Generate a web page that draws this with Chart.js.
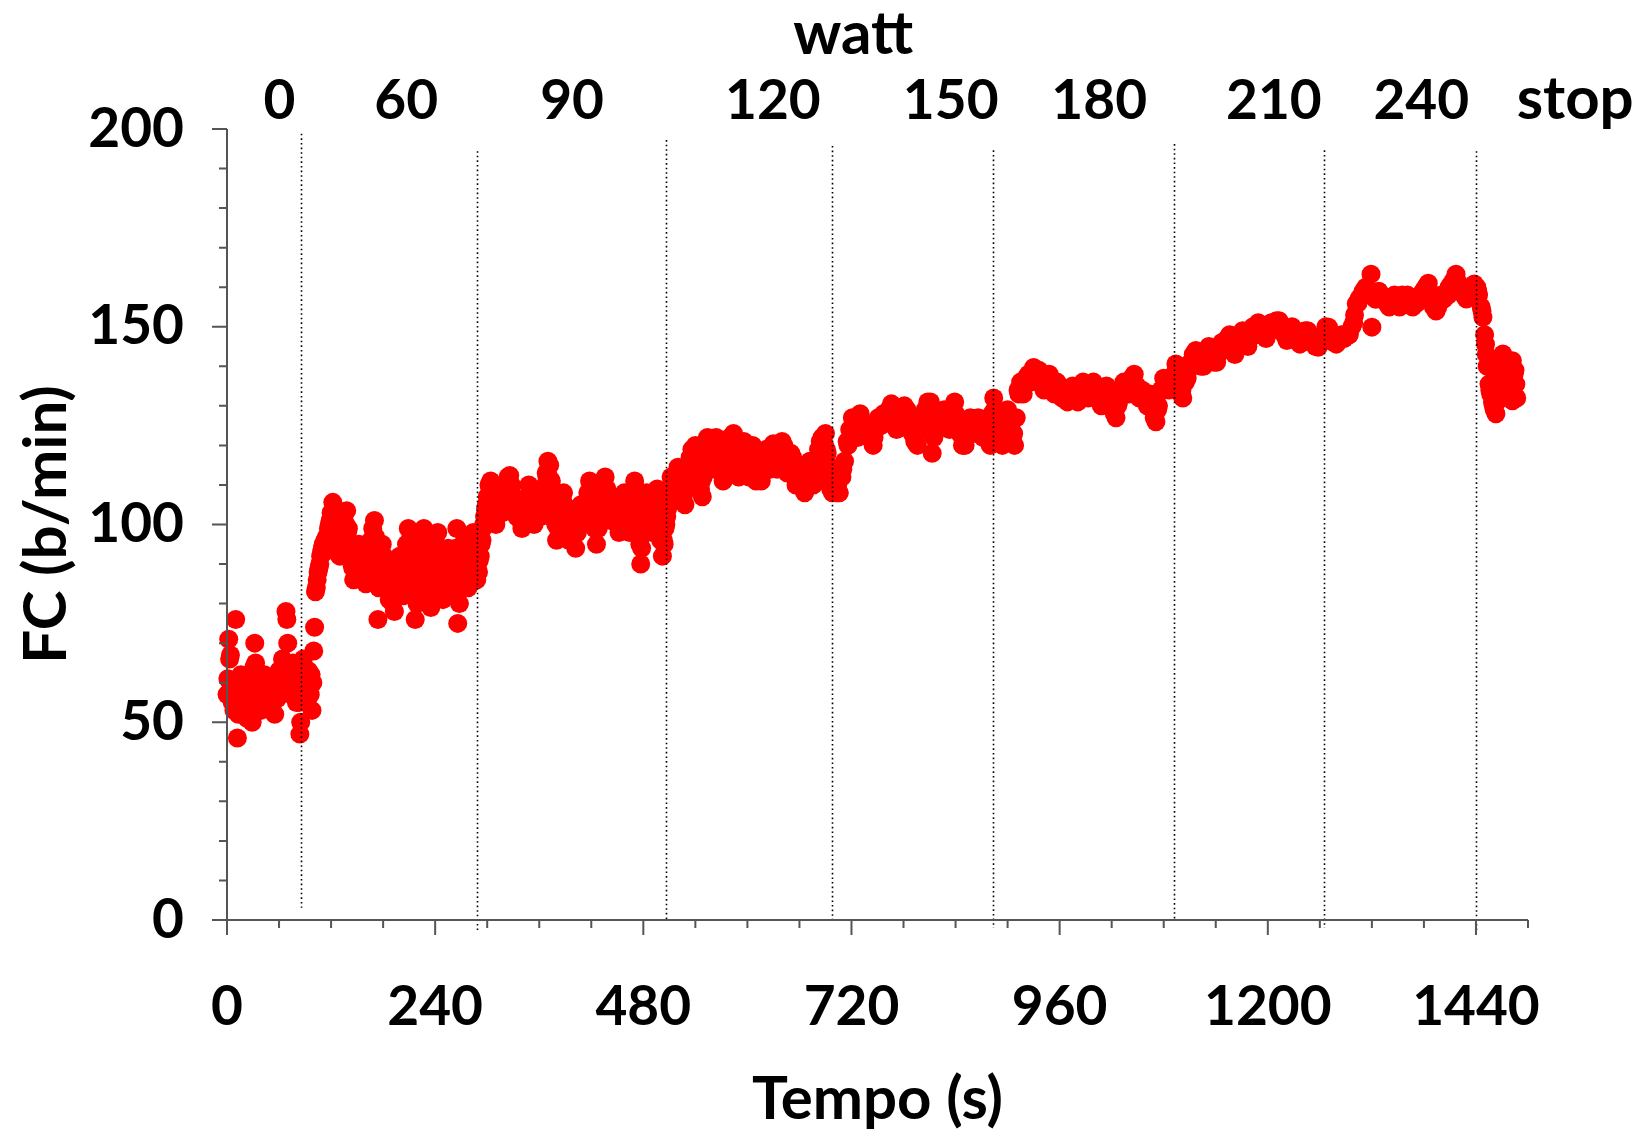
<!DOCTYPE html>
<html>
<head>
<meta charset="utf-8">
<title>FC vs tempo</title>
<script src="https://cdn.jsdelivr.net/npm/chart.js@4/dist/chart.umd.min.js"></script>
<style>
  html, body { margin: 0; padding: 0; background: #fff; }
  canvas { display: block; }
</style>
</head>
<body>
<canvas id="fcChart" width="1643" height="1136"></canvas>
<script>
// Heart rate (b/min) during the incremental test, time in seconds.
// First block: even readings, second block: the readings in between.
const tempo = [
  0, 1, 2, 3, 4, 5, 6, 8, 9, 10, 11, 12, 13, 15, 16,
  18, 20, 21, 23, 24, 26, 28, 29, 31, 32, 33, 35, 37, 39, 41,
  43, 45, 47, 49, 51, 53, 55, 56, 58, 60, 62, 64, 66, 68, 69,
  70, 72, 74, 76, 78, 80, 82, 84, 85, 86, 88, 90, 92, 94, 96,
  98, 100, 101,
  102, 104, 106, 108, 110, 112, 114, 116, 118, 120, 122, 124, 126, 128, 130,
  132, 134, 136, 138, 140, 142, 144, 146, 148, 150, 152, 154, 156, 158, 160,
  162, 164, 166, 168, 170, 172, 174, 175, 177, 179, 181, 183, 185, 187, 189,
  191, 193, 195, 197, 199, 201, 203, 205, 207, 209, 211, 213, 215, 217, 219,
  221, 223, 225, 227, 229, 231, 233, 235, 237, 239, 241, 243, 245, 247, 249,
  251, 253, 255, 257, 259, 261, 263, 265, 266, 268, 270, 272, 274, 276, 278,
  280, 282, 284, 286, 288,
  290, 292, 294, 296, 298, 300, 302, 304, 306, 308, 310, 312, 314, 316, 318,
  320, 322, 324, 326, 328, 330, 332, 334, 336, 338, 340, 342, 344, 346, 348,
  350, 352, 354, 356, 358, 360, 362, 364, 366, 368, 370, 372, 374, 376, 378,
  380, 382, 384, 386, 388, 390, 392, 394, 396, 398, 400, 402, 404, 406, 408,
  410, 412, 414, 416, 418, 420, 422, 424, 426, 428, 430, 432, 434, 436, 438,
  440, 442, 444, 446, 448, 450, 452, 454, 456, 458, 460, 462, 464, 466, 468,
  470, 472, 474, 476, 477, 478, 480, 482, 484, 486, 488, 490, 492, 494, 496,
  498, 500, 502, 504, 506,
  508, 510, 512, 514, 516, 518, 520, 522, 524, 526, 528, 530, 532, 534, 536,
  538, 540, 542, 544, 546, 548, 550, 552, 554, 556, 558, 560, 562, 564, 566,
  568, 570, 572, 574, 576, 578, 580, 582, 584, 586, 588, 590, 592, 594, 596,
  598, 600, 602, 604, 606, 608, 610, 612, 614, 616, 618, 620, 622, 624, 626,
  628, 630, 632, 634, 636, 638, 640, 642, 644, 646, 648, 650, 652, 654, 656,
  658, 660, 662, 664, 666, 668, 670, 672, 674, 676, 678, 680, 682, 684, 686,
  688, 690, 692, 694, 696, 698,
  700, 703, 706, 709, 712, 715, 718, 721, 724, 727, 730, 733, 736, 739, 742,
  745, 748, 751, 754, 757, 760, 763, 766, 769, 772, 775, 778, 781, 784, 787,
  790, 793, 796, 799, 802, 805, 808, 811, 813, 815, 818, 821, 824, 827, 830,
  833, 836, 839, 842, 845, 848, 851, 854, 857, 860, 863, 866, 869, 872, 875,
  878, 880, 882, 884, 886,
  888, 891, 894, 897, 900, 903, 906, 908, 910, 912, 915, 918, 921, 924, 927,
  930, 933, 936, 939, 942, 945, 948, 951, 954, 957, 960, 963, 966, 969, 972,
  975, 978, 981, 984, 987, 990, 993, 996, 999, 1002, 1005, 1008, 1011, 1014, 1017,
  1020, 1023, 1025, 1028, 1031, 1034, 1037, 1040, 1043, 1046, 1049, 1052, 1055, 1058,
  1061, 1064, 1067, 1069, 1071, 1074, 1077, 1080, 1083, 1086, 1089, 1092,
  1094, 1097, 1100, 1102, 1105, 1108, 1111, 1114, 1117, 1120, 1123, 1126, 1129, 1132, 1135,
  1138, 1141, 1144, 1147, 1150, 1153, 1156, 1159, 1162, 1165, 1168, 1171, 1174, 1177, 1180,
  1183, 1186, 1189, 1192, 1195, 1198, 1201, 1204, 1207, 1210, 1213, 1216, 1219, 1222, 1225,
  1228, 1231, 1234, 1237, 1240, 1243, 1246, 1249, 1252, 1255, 1258, 1261, 1264,
  1267, 1270, 1273, 1276, 1279, 1282, 1285, 1288, 1291, 1294, 1297, 1300, 1302, 1305, 1308,
  1310, 1313, 1316, 1319, 1320, 1322, 1325, 1328, 1331, 1334, 1337, 1340, 1343, 1346, 1349,
  1352, 1355, 1358, 1361, 1364, 1367, 1370, 1373, 1376, 1379, 1382, 1385, 1388, 1391, 1394,
  1397, 1400, 1403, 1406, 1409, 1412, 1415, 1417, 1420, 1423, 1426, 1429, 1432, 1435, 1438,
  1441, 1443,
  1446, 1448, 1450, 1451, 1453, 1455, 1457, 1459, 1461, 1463, 1465, 1467, 1469, 1471, 1473,
  1475, 1477, 1479, 1482, 1482, 1484, 1486, 1487,
  // in between
  7, 14, 17, 19, 22, 25, 27, 30, 34, 36, 38, 40, 42, 44, 46,
  48, 50, 52, 54, 57, 59, 61, 63, 65, 67, 71, 73, 75, 77, 79,
  81, 83, 87, 89, 91, 93, 95, 97, 99,
  103, 105, 107, 109, 111, 113, 115, 117, 119, 121, 123, 125, 127, 129, 131,
  133, 135, 137, 139, 141, 143, 145, 147, 149, 151, 153, 155, 157, 159, 161,
  163, 165, 167, 169, 171, 173, 176, 178, 180, 182, 184, 186, 188, 190, 192,
  194, 196, 198, 200, 202, 204, 206, 208, 210, 212, 214, 216, 218, 220, 222,
  224, 226, 228, 230, 232, 234, 236, 238, 240, 242, 244, 246, 248, 250, 252,
  254, 256, 258, 260, 262, 264, 267, 269, 271, 273, 275, 277, 279, 281, 283,
  285, 287,
  289, 291, 293, 295, 297, 299, 301, 303, 305, 307, 309, 311, 313, 315, 317,
  319, 321, 323, 325, 327, 329, 331, 333, 335, 337, 339, 341, 343, 345, 347,
  349, 351, 353, 355, 357, 359, 361, 363, 365, 367, 369, 371, 373, 375, 377,
  379, 381, 383, 385, 387, 389, 391, 393, 395, 397, 399, 401, 403, 405, 407,
  409, 411, 413, 415, 417, 419, 421, 423, 425, 427, 429, 431, 433, 435, 437,
  439, 441, 443, 445, 447, 449, 451, 453, 455, 457, 459, 461, 463, 465, 467,
  469, 471, 473, 475, 479, 481, 483, 485, 487, 489, 491, 493, 495, 497, 499,
  501, 503, 505,
  507, 509, 511, 513, 515, 517, 519, 521, 523, 525, 527, 529, 531, 533, 535,
  537, 539, 541, 543, 545, 547, 549, 551, 553, 555, 557, 559, 561, 563, 565,
  567, 569, 571, 573, 575, 577, 579, 581, 583, 585, 587, 589, 591, 593, 595,
  597, 599, 601, 603, 605, 607, 609, 611, 613, 615, 617, 619, 621, 623, 625,
  627, 629, 631, 633, 635, 637, 639, 641, 643, 645, 647, 649, 651, 653, 655,
  657, 659, 661, 663, 665, 667, 669, 671, 673, 675, 677, 679, 681, 683, 685,
  687, 689, 691, 693, 695, 697,
  704, 710, 716, 722, 728, 734, 740, 746, 752, 758, 764, 770, 776, 782, 788,
  794, 800, 806, 812, 816, 822, 828, 834, 840, 846, 852, 858, 864, 870, 876,
  881, 885,
  889, 895, 901, 907, 913, 919, 925, 931, 937, 943, 949, 955, 961, 967, 973,
  979, 985, 991, 997, 1003, 1009, 1015, 1021, 1027, 1033, 1039, 1045, 1051, 1057, 1063,
  1068, 1073, 1079, 1085, 1091,
  1096, 1101, 1107, 1113, 1119, 1125, 1131, 1137, 1143, 1149, 1155, 1161, 1167, 1173, 1179,
  1185, 1191, 1197, 1203, 1209, 1215, 1221, 1227, 1233, 1239, 1245, 1251, 1257, 1263,
  1269, 1275, 1281, 1287, 1293, 1299, 1304, 1311, 1317, 1324, 1330, 1336, 1342, 1348, 1354,
  1360, 1366, 1372, 1378, 1384, 1390, 1396, 1402, 1408, 1414, 1419, 1425, 1431, 1437, 1442,
  1447, 1452, 1456, 1460, 1464, 1468, 1472, 1476, 1480, 1483, 1485
];

const fc = [
  57, 61, 71, 66, 67, 59, 55, 53, 60, 76, 56, 46, 52, 58, 62,
  55, 60, 53, 51, 57, 62, 58, 50, 64, 70, 65, 56, 60, 53, 58,
  62, 55, 60, 57, 53, 59, 52, 61, 56, 63, 58, 66, 60, 78, 76,
  70, 62, 57, 65, 60, 55, 62, 47, 50, 58, 66, 60, 55, 63, 57,
  53, 68, 74,
  83, 86, 89, 92, 94, 93, 95, 96, 100, 103, 105.6, 101, 97, 95, 92,
  98, 100, 103, 103.5, 99, 94, 90, 86, 88, 92, 95, 94, 90, 87, 85,
  89, 93, 96, 99, 101, 96, 76, 84, 90, 95, 92, 88, 84, 81, 86,
  80, 78, 83, 88, 92, 86, 82, 90, 95, 99, 96, 88, 83, 76, 80,
  86, 92, 97, 99, 93, 87, 82, 79, 85, 90, 95, 98, 92, 87, 81,
  84, 90, 94, 88, 83, 86, 93, 99, 75, 80, 85, 92, 96, 89, 84,
  88, 94, 98, 90, 86,
  88, 92, 96, 100, 104, 107, 110, 111, 106, 102, 100, 104, 108, 106, 103,
  105, 109, 112, 112.4, 110, 107, 104, 102, 105, 101, 99, 101, 104, 107, 110,
  108, 104, 100, 103, 106, 104, 102, 105, 109, 113, 116, 115, 111, 106, 101,
  96, 99, 103, 106, 108, 104, 99, 96, 100, 103, 97, 94, 98, 102, 105,
  103, 101, 104, 108, 111, 108, 103, 99, 95, 99, 104, 108, 111, 112, 109,
  104, 101, 104, 106, 103, 100, 98, 102, 106, 108, 105, 101, 98, 103, 107,
  111, 109, 104, 95, 90, 94, 100, 104, 108, 106, 102, 98, 103, 107, 109,
  104, 96, 92, 95, 100,
  104, 108, 112, 110, 107, 111, 114.5, 113, 109, 107, 105, 110, 114, 117, 119,
  115, 120, 116, 112, 109, 107, 114, 121, 122, 118, 114, 117, 121, 122, 119,
  116, 113, 111, 115, 118, 121, 122, 118, 123, 120, 116, 112, 115, 118, 121,
  119, 116, 112, 118, 120, 115, 111, 114, 117, 111, 113, 116, 119, 117, 114,
  119, 120.4, 117, 114, 116, 119, 121, 120, 117, 113, 115, 118, 117, 113, 110,
  112, 115, 112, 109, 108, 110, 113, 116, 113, 110, 112, 116, 119, 121, 122,
  120, 123, 118, 113, 109, 108,
  110, 108, 108, 112, 116, 121, 124, 127, 125, 122, 128, 126, 123, 125, 122,
  120, 124, 127, 125, 128, 126, 129, 130.5, 127, 124, 126, 128, 130, 129, 126,
  123, 121, 120, 124, 127, 129, 131, 131, 118, 122, 126, 128, 126, 129, 126,
  124, 128, 131, 127, 123, 120, 120, 124, 127, 125, 123, 127, 125, 122, 124,
  121, 120, 128, 132, 127,
  124, 121, 120, 124, 129, 125, 121, 120, 127, 134, 136, 133, 137, 138, 136,
  139.7, 137, 139, 136, 134, 137, 138, 135, 133, 136, 134, 132, 134, 131, 133,
  135, 133, 131, 134, 136, 134, 132, 134, 136, 135, 132, 130, 133, 135, 133,
  130, 128, 127, 131, 134, 136, 135, 133, 137, 138, 135, 132, 134, 132,
  130, 133, 129, 127, 126, 130, 134, 137, 136, 134, 137, 138,
  140.6, 137, 133, 132, 136, 139, 141, 143, 144, 142, 140, 140, 143, 145, 143,
  141, 141, 144, 146, 145, 147, 148, 146, 143, 145, 148, 149, 147, 145, 149,
  150, 148, 151, 150, 148, 147, 149, 151, 150, 151.5, 151.5, 150, 148, 146.5, 148,
  150, 149, 147, 145.6, 147, 149, 149, 147, 146, 145, 144.8, 146, 148,
  150, 149.9, 148, 146, 145.6, 147, 148, 147, 148.2, 148, 150, 153, 155.8, 157, 158,
  159, 160, 159, 163.3, 149.9, 158, 157, 159, 157, 157.4, 156, 155, 157, 158, 156,
  155, 158, 157, 158, 156, 155, 155.8, 157, 158, 159, 160, 161, 158, 155, 154,
  156, 158, 157, 158, 160, 161, 162, 163.3, 161, 159, 158, 157, 159, 160, 160.8,
  160, 158,
  155, 152.4, 148, 145.6, 140, 135.5, 133, 131, 129, 128, 133, 138, 141, 143.1, 140,
  136, 133, 137, 141.4, 131.3, 138, 135.5, 132,
  // in between
  58, 57, 60, 56, 58, 60, 55, 59, 62, 58, 56, 60, 57, 59, 56,
  61, 58, 56, 58, 60, 57, 61, 59, 63, 61, 64, 60, 62, 58, 60,
  58, 55, 62, 61, 58, 60, 59, 62, 60,
  84, 88, 90, 93, 95, 96, 97, 99, 101, 102, 103, 100, 98, 97, 96,
  99, 101, 100, 98, 95, 92, 89, 90, 91, 93, 91, 92, 89, 88, 91,
  90, 92, 94, 95, 97, 91, 88, 91, 90, 88, 87, 86, 84, 83, 82,
  86, 87, 89, 90, 88, 86, 92, 93, 92, 90, 87, 85, 83, 85, 89,
  93, 95, 94, 90, 86, 84, 86, 88, 92, 94, 93, 89, 85, 86, 88,
  91, 90, 87, 88, 90, 94, 86, 84, 88, 93, 92, 88, 87, 91, 95,
  93, 90,
  90, 91, 95, 99, 102, 105, 107, 108, 107, 104, 103, 104, 106, 106, 105,
  105, 107, 109, 110, 109, 107, 105, 104, 104, 103, 102, 103, 104, 106, 107,
  107, 105, 103, 103, 105, 105, 104, 104, 107, 110, 112, 112, 111, 107, 104,
  100, 100, 102, 104, 106, 105, 102, 100, 100, 102, 101, 99, 98, 101, 103,
  104, 103, 103, 106, 108, 108, 106, 102, 99, 100, 102, 105, 108, 109, 108,
  106, 103, 103, 105, 104, 102, 101, 101, 104, 106, 106, 104, 101, 101, 104,
  107, 108, 106, 101, 99, 102, 105, 106, 104, 101, 101, 104, 106, 106, 101,
  98, 96, 99,
  102, 106, 109, 110, 109, 110, 112, 112, 110, 109, 108, 109, 112, 115, 116,
  116, 117, 117, 114, 112, 111, 112, 117, 119, 119, 116, 116, 118, 119, 119,
  117, 115, 113, 114, 116, 118, 119, 119, 119, 119, 117, 115, 114, 116, 118,
  118, 117, 115, 115, 117, 117, 114, 113, 115, 115, 113, 115, 117, 117, 116,
  116, 118, 118, 116, 115, 117, 119, 119, 118, 115, 114, 116, 116, 114, 112,
  112, 113, 113, 111, 110, 110, 112, 114, 114, 112, 111, 114, 117, 119, 119,
  119, 120, 119, 115, 111, 110,
  110, 114, 120, 124, 124, 124, 123, 122, 125, 126, 127, 126, 126, 128, 125,
  122, 124, 127, 125, 124, 126, 127, 126, 128, 124, 122, 125, 124, 124, 122,
  124, 129,
  123, 122, 126, 123, 133, 135, 137, 137, 137, 135, 136, 134, 133, 132, 133,
  132, 134, 133, 134, 133, 132, 133, 130, 130, 134, 134, 136, 134, 133, 131,
  129, 129, 134, 135, 136,
  138, 134, 137, 141, 142, 141, 143, 142, 143, 145, 146, 145, 146, 147, 147,
  149, 149, 148, 149, 150, 150, 148, 148, 148, 146, 148, 147, 146, 147,
  149, 147, 147, 147, 148, 151, 156, 158, 158, 157, 158, 157, 156, 157, 156,
  157, 156, 156, 158, 159, 157, 155, 157, 158, 160, 161, 159, 158, 159, 159,
  154, 143, 134, 130, 131, 139, 142, 135, 134, 136, 139
];

// Workload stages (watt): end of each stage in seconds and the label of each stage
const stageEnds = [85, 288, 506, 698, 883, 1092, 1265, 1440];
const stageLineTop = [198.8, 194.4, 197.2, 195.7, 194.6, 196.2, 194.6, 194.4];
const stageLineBottom = [3.1, -2.5, 0, 0, -2, 0, -2, -2.5];
const wattLabels = ['0', '60', '90', '120', '150', '180', '210', '240', 'stop'];
const wattLabelTime = [60.5, 206.6, 397.8, 629.4, 834.4, 1005.6, 1207, 1377, 1554.4];
const wattTitleTime = 722;

const FONT = 'Lato, "Noto Sans", sans-serif';
const NUM_SIZE = 55;
const WORD_SIZE = 60;

// axes, minor ticks, stage separators and the watt row on top
const framePlugin = {
  id: 'frame',
  afterDatasetsDraw(chart) {
    const { ctx, scales: { x, y } } = chart;
    const x0 = x.getPixelForValue(0);
    const y0 = y.getPixelForValue(0);
    ctx.save();

    ctx.strokeStyle = '#000';
    ctx.lineWidth = 1.6;
    ctx.setLineDash([1.6, 3]);
    stageEnds.forEach((t, i) => {
      const px = Math.round(x.getPixelForValue(t)) + 0.5;
      ctx.beginPath();
      ctx.moveTo(px, y.getPixelForValue(stageLineTop[i]));
      ctx.lineTo(px, y.getPixelForValue(stageLineBottom[i]));
      ctx.stroke();
    });
    ctx.setLineDash([]);

    ctx.strokeStyle = '#555';
    ctx.lineWidth = 2;
    ctx.beginPath();
    ctx.moveTo(x0, y.getPixelForValue(200));
    ctx.lineTo(x0, y0);
    ctx.moveTo(x0, y0);
    ctx.lineTo(x.getPixelForValue(1500), y0);
    for (let v = 0; v <= 200; v += 10) {
      const len = v % 50 === 0 ? 15 : 8;
      const py = y.getPixelForValue(v);
      ctx.moveTo(x0 - len, py);
      ctx.lineTo(x0, py);
    }
    for (let t = 0; t <= 1500; t += 60) {
      const len = t % 240 === 0 ? 15 : 8;
      const px = x.getPixelForValue(t);
      ctx.moveTo(px, y0);
      ctx.lineTo(px, y0 + len);
    }
    ctx.stroke();

    ctx.fillStyle = '#000';
    ctx.textAlign = 'center';
    ctx.textBaseline = 'alphabetic';
    wattLabels.forEach((label, i) => {
      const size = isNaN(Number(label)) ? WORD_SIZE : NUM_SIZE;
      ctx.font = `bold ${size}px ${FONT}`;
      ctx.fillText(label, x.getPixelForValue(wattLabelTime[i]), 119);
    });
    ctx.font = `bold ${WORD_SIZE}px ${FONT}`;
    ctx.fillText('watt', x.getPixelForValue(wattTitleTime), 54);
    ctx.restore();
  }
};

const ctx = document.getElementById('fcChart').getContext('2d');
const fcChart = new Chart(ctx, {
  type: 'scatter',
  data: {
    datasets: [{
      label: 'FC',
      data: tempo.map((t, i) => ({ x: t, y: fc[i] })),
      backgroundColor: '#ff0000',
      borderWidth: 0,
      pointRadius: 9.5,
      pointBorderWidth: 0,
      clip: false
    }]
  },
  options: {
    responsive: false,
    animation: false,
    devicePixelRatio: 1,
    layout: { padding: { top: 129, right: 115, left: 0, bottom: 0 } },
    plugins: { legend: { display: false }, tooltip: { enabled: false } },
    scales: {
      x: {
        type: 'linear',
        min: 0,
        max: 1500,
        grid: { display: false, drawTicks: false },
        border: { display: false },
        ticks: {
          stepSize: 240,
          includeBounds: false,
          maxRotation: 0,
          padding: 54,
          color: '#000',
          font: { family: FONT, size: NUM_SIZE, weight: 'bold' },
          callback: (v) => String(v)
        },
        title: {
          display: true,
          text: 'Tempo (s)',
          color: '#000',
          font: { family: FONT, size: WORD_SIZE, weight: 'bold' },
          padding: { top: 0, bottom: 0 }
        },
        afterFit: (scale) => { scale.height = 216; }
      },
      y: {
        min: 0,
        max: 200,
        grid: { display: false, drawTicks: false },
        border: { display: false },
        ticks: {
          stepSize: 50,
          padding: 43,
          color: '#000',
          font: { family: FONT, size: NUM_SIZE, weight: 'bold' }
        },
        title: {
          display: true,
          text: 'FC (b/min)',
          color: '#000',
          font: { family: FONT, size: WORD_SIZE, weight: 'bold' },
          padding: { top: 11, bottom: 0 }
        },
        afterFit: (scale) => { scale.width = 227; }
      }
    }
  },
  plugins: [framePlugin]
});
</script>
</body>
</html>
